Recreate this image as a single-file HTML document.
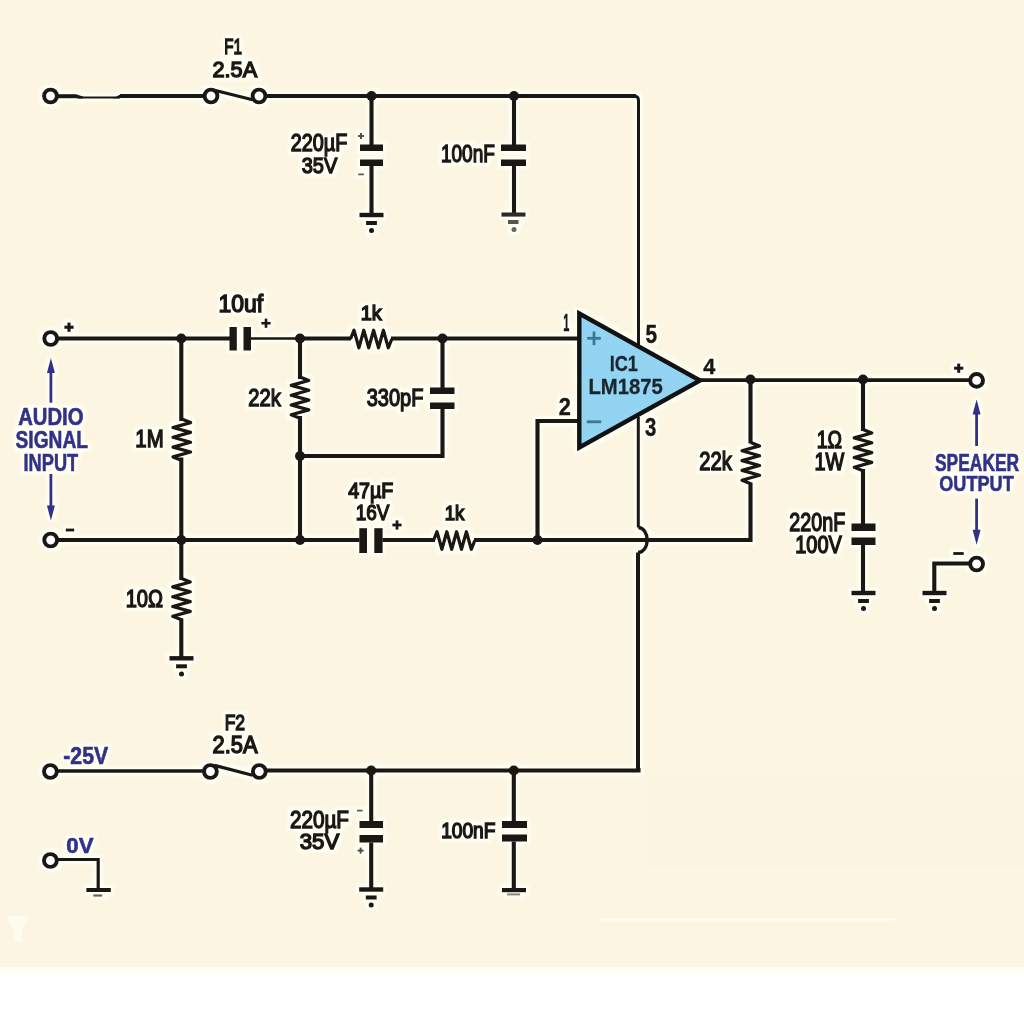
<!DOCTYPE html>
<html><head><meta charset="utf-8"><style>
html,body{margin:0;padding:0;background:#fff;}
body{width:1024px;height:1024px;overflow:hidden;position:relative;}
svg{position:absolute;left:0;top:0;}
text{font-family:"Liberation Sans",sans-serif;}
</style></head><body>
<svg width="1024" height="1024" viewBox="0 0 1024 1024">
<rect x="0" y="0" width="1024" height="967" fill="#FCF5E2"/>
<rect x="0" y="967" width="1024" height="57" fill="#ffffff"/>
<rect x="0" y="967" width="1024" height="8" fill="#fefdf8"/>
<rect x="650" y="772" width="374" height="30" fill="#f9f2df" opacity="0.2"/>
<rect x="648" y="802" width="376" height="64" fill="#f6efdb" opacity="0.4"/>
<path d="M600,919.5 H895" stroke="#fffdf5" stroke-width="2.2"/>
<path d="M6,916 L14,930 L14,942 L22,942 L22,930 L28,916 Z" fill="#fefcf4" opacity="0.8"/>
<defs><filter id="b" x="-5%" y="-5%" width="110%" height="110%" color-interpolation-filters="sRGB">
<feMorphology in="SourceAlpha" operator="dilate" radius="2.5" result="d"/>
<feGaussianBlur in="d" stdDeviation="1.6" result="db"/>
<feFlood flood-color="#fffff3" result="f"/>
<feComposite in="f" in2="db" operator="in" result="h"/>
<feGaussianBlur in="SourceGraphic" stdDeviation="0.65" result="s"/>
<feMerge><feMergeNode in="h"/><feMergeNode in="s"/></feMerge>
</filter></defs>
<g filter="url(#b)">
<circle cx="50.5" cy="96" r="6.4" fill="#fff" stroke="#1a1715" stroke-width="3.9"/>
<path d="M56,96.2 L76,96.2" fill="none" stroke="#1a1715" stroke-width="4.0" stroke-linecap="butt" stroke-linejoin="miter"/>
<path d="M76,94.2 L83,96.5 L83,98.4 L76,98.2 Z" fill="#1a1715"/>
<path d="M78,97.4 L120,97.4" fill="none" stroke="#1a1715" stroke-width="2.0" stroke-linecap="butt" stroke-linejoin="miter"/>
<path d="M113,98.4 L121,94 L121,98 Z" fill="#1a1715"/>
<path d="M120,96 L205,96" fill="none" stroke="#1a1715" stroke-width="4.0" stroke-linecap="butt" stroke-linejoin="miter"/>
<circle cx="211" cy="96" r="6.4" fill="#fff" stroke="#1a1715" stroke-width="3.9"/>
<circle cx="259" cy="96" r="6.4" fill="#fff" stroke="#1a1715" stroke-width="3.9"/>
<path d="M214.5,90.2 L252.5,99.8" fill="none" stroke="#1a1715" stroke-width="3.2" stroke-linecap="butt" stroke-linejoin="miter"/>
<path d="M265,96 L636,96" fill="none" stroke="#1a1715" stroke-width="4.1" stroke-linecap="butt" stroke-linejoin="miter"/>
<path d="M634,96 Q638.5,96 638.5,100.5 L638.5,345" fill="none" stroke="#1a1715" stroke-width="3.0"/>
<circle cx="371.5" cy="96" r="5.0" fill="#1a1715"/>
<circle cx="514" cy="96" r="5.0" fill="#1a1715"/>
<path d="M371.5,96 L371.5,145" fill="none" stroke="#1a1715" stroke-width="4.1" stroke-linecap="butt" stroke-linejoin="miter"/>
<rect x="360" y="144.5" width="23" height="6.5" fill="#1a1715"/>
<rect x="360" y="159.5" width="23" height="6.5" fill="#1a1715"/>
<path d="M371.5,166 L371.5,214" fill="none" stroke="#1a1715" stroke-width="4.1" stroke-linecap="butt" stroke-linejoin="miter"/>
<rect x="359.5" y="212.8" width="24.0" height="4.399999999999977" fill="#1a1715"/>
<rect x="366.1" y="221.0" width="10.799999999999955" height="4.0" fill="#1a1715"/>
<circle cx="371.5" cy="230.6" r="2.5" fill="#1a1715"/>
<path d="M358.0,136H364.0" stroke="#4f4a43" stroke-width="1.9"/>
<path d="M361,133.0V139.0" stroke="#4f4a43" stroke-width="1.9"/>
<path d="M358.2,174.4H363.8" stroke="#5f5a52" stroke-width="1.8"/>
<text x="290.725" y="151.0" font-size="23.7" font-weight="normal" fill="#1a1715" stroke="#1a1715" stroke-width="1.45" textLength="56.55" lengthAdjust="spacingAndGlyphs">220µF</text>
<text x="301.725" y="173.0" font-size="22.5" font-weight="normal" fill="#1a1715" stroke="#1a1715" stroke-width="1.45" textLength="35.55" lengthAdjust="spacingAndGlyphs">35V</text>
<path d="M514,96 L514,145" fill="none" stroke="#1a1715" stroke-width="4.1" stroke-linecap="butt" stroke-linejoin="miter"/>
<rect x="501" y="144.5" width="25" height="6.5" fill="#1a1715"/>
<rect x="501" y="159.5" width="25" height="6.5" fill="#1a1715"/>
<path d="M514,166 L514,214" fill="none" stroke="#1a1715" stroke-width="4.1" stroke-linecap="butt" stroke-linejoin="miter"/>
<rect x="501.5" y="212.5" width="24.0" height="4.099999999999994" fill="#2e2b27"/>
<rect x="508" y="220" width="10.5" height="4" fill="#5a554c"/>
<circle cx="514" cy="229.5" r="2.5" fill="#6b655c"/>
<text x="440.925" y="162.3" font-size="24.7" font-weight="normal" fill="#1a1715" stroke="#1a1715" stroke-width="1.45" textLength="53.95000000000003" lengthAdjust="spacingAndGlyphs">100nF</text>
<text x="224.225" y="54.4" font-size="22.1" font-weight="normal" fill="#1a1715" stroke="#1a1715" stroke-width="1.45" textLength="17.74999999999999" lengthAdjust="spacingAndGlyphs">F1</text>
<text x="212.525" y="76.8" font-size="22.7" font-weight="normal" fill="#1a1715" stroke="#1a1715" stroke-width="1.45" textLength="44.64999999999996" lengthAdjust="spacingAndGlyphs">2.5A</text>
<circle cx="50.7" cy="338.5" r="6.4" fill="#fff" stroke="#1a1715" stroke-width="3.9"/>
<path d="M64.4,327.2H73.6" stroke="#1a1715" stroke-width="3.1"/>
<path d="M69,322.59999999999997V331.8" stroke="#1a1715" stroke-width="3.1"/>
<path d="M56.5,338.5 L230,338.5" fill="none" stroke="#1a1715" stroke-width="4.1" stroke-linecap="butt" stroke-linejoin="miter"/>
<circle cx="181.3" cy="338.5" r="5.0" fill="#1a1715"/>
<rect x="229.5" y="327" width="7.300000000000011" height="23.5" fill="#1a1715"/>
<rect x="243.5" y="327" width="7.5" height="23.5" fill="#1a1715"/>
<path d="M261.4,323.2H270.6" stroke="#1a1715" stroke-width="2.6"/>
<path d="M266,318.59999999999997V327.8" stroke="#1a1715" stroke-width="2.6"/>
<text x="218.525" y="312.1" font-size="23.5" font-weight="normal" fill="#1a1715" stroke="#1a1715" stroke-width="1.45" textLength="44.64999999999996" lengthAdjust="spacingAndGlyphs">10uf</text>
<path d="M250.5,338.5 L300,338.5" fill="none" stroke="#1a1715" stroke-width="2.4" stroke-linecap="butt" stroke-linejoin="miter"/>
<path d="M300,338.5 L351,338.5" fill="none" stroke="#1a1715" stroke-width="4.1" stroke-linecap="butt" stroke-linejoin="miter"/>
<circle cx="300" cy="338.5" r="5.0" fill="#1a1715"/>
<path d="M350.5,339 L354.0,330.2 L358.9,347.8 L363.8,330.2 L368.7,347.8 L373.6,330.2 L378.5,347.8 L383.4,330.2 L388.3,347.8 L391.8,339" fill="none" stroke="#1a1715" stroke-width="3.2" stroke-linecap="butt" stroke-linejoin="round"/>
<path d="M391,338.5 L579,338.5" fill="none" stroke="#1a1715" stroke-width="4.1" stroke-linecap="butt" stroke-linejoin="miter"/>
<text x="360.725" y="319.8" font-size="20.5" font-weight="normal" fill="#1a1715" stroke="#1a1715" stroke-width="1.45" textLength="21.05" lengthAdjust="spacingAndGlyphs">1k</text>
<circle cx="442.5" cy="338.5" r="5.0" fill="#1a1715"/>
<path d="M442.5,338.5 L442.5,388" fill="none" stroke="#1a1715" stroke-width="4.1" stroke-linecap="butt" stroke-linejoin="miter"/>
<rect x="430" y="387.5" width="24.5" height="6.5" fill="#1a1715"/>
<rect x="430" y="402.5" width="24.5" height="6.5" fill="#1a1715"/>
<path d="M442.5,409 L442.5,456 L300,456" fill="none" stroke="#1a1715" stroke-width="4.1" stroke-linecap="butt" stroke-linejoin="miter"/>
<circle cx="300" cy="456" r="5.0" fill="#1a1715"/>
<text x="366.625" y="406.0" font-size="24.6" font-weight="normal" fill="#1a1715" stroke="#1a1715" stroke-width="1.45" textLength="56.75000000000004" lengthAdjust="spacingAndGlyphs">330pF</text>
<path d="M300,338.5 L300,379" fill="none" stroke="#1a1715" stroke-width="4.1" stroke-linecap="butt" stroke-linejoin="miter"/>
<path d="M300,377.0 L308.8,380.5 L291.2,385.4 L308.8,390.3 L291.2,395.2 L308.8,400.1 L291.2,405.0 L308.8,409.9 L291.2,414.8 L300,418.3" fill="none" stroke="#1a1715" stroke-width="3.2" stroke-linecap="butt" stroke-linejoin="round"/>
<path d="M300,416 L300,540" fill="none" stroke="#1a1715" stroke-width="4.1" stroke-linecap="butt" stroke-linejoin="miter"/>
<text x="248.225" y="405.8" font-size="24.1" font-weight="normal" fill="#1a1715" stroke="#1a1715" stroke-width="1.45" textLength="32.55" lengthAdjust="spacingAndGlyphs">22k</text>
<path d="M181.3,338.5 L181.3,421" fill="none" stroke="#1a1715" stroke-width="4.1" stroke-linecap="butt" stroke-linejoin="miter"/>
<path d="M181.8,419.1 L190.6,422.6 L173.0,427.5 L190.6,432.4 L173.0,437.3 L190.6,442.2 L173.0,447.1 L190.6,452.0 L173.0,456.9 L181.8,460.40000000000003" fill="none" stroke="#1a1715" stroke-width="3.2" stroke-linecap="butt" stroke-linejoin="round"/>
<path d="M181.3,457.5 L181.3,540" fill="none" stroke="#1a1715" stroke-width="4.1" stroke-linecap="butt" stroke-linejoin="miter"/>
<text x="135.325" y="447.0" font-size="24.7" font-weight="normal" fill="#1a1715" stroke="#1a1715" stroke-width="1.45" textLength="28.350000000000012" lengthAdjust="spacingAndGlyphs">1M</text>
<circle cx="50.7" cy="540" r="6.4" fill="#fff" stroke="#1a1715" stroke-width="3.9"/>
<path d="M65.8,530H74.2" stroke="#1a1715" stroke-width="2.8"/>
<path d="M56.5,540 L359.5,540" fill="none" stroke="#1a1715" stroke-width="4.1" stroke-linecap="butt" stroke-linejoin="miter"/>
<circle cx="181.3" cy="540" r="5.0" fill="#1a1715"/>
<circle cx="300" cy="540" r="5.0" fill="#1a1715"/>
<rect x="359.3" y="528.2" width="7.699999999999989" height="24.799999999999955" fill="#1a1715"/>
<rect x="374.3" y="528.2" width="8.300000000000011" height="24.799999999999955" fill="#1a1715"/>
<path d="M392.4,525H401.6" stroke="#1a1715" stroke-width="2.8"/>
<path d="M397,520.4V529.6" stroke="#1a1715" stroke-width="2.8"/>
<text x="348.225" y="498.3" font-size="21.2" font-weight="normal" fill="#1a1715" stroke="#1a1715" stroke-width="1.45" textLength="45.05" lengthAdjust="spacingAndGlyphs">47µF</text>
<text x="355.725" y="520.3" font-size="22.7" font-weight="normal" fill="#1a1715" stroke="#1a1715" stroke-width="1.45" textLength="33.55" lengthAdjust="spacingAndGlyphs">16V</text>
<path d="M382.5,540 L435,540" fill="none" stroke="#1a1715" stroke-width="4.1" stroke-linecap="butt" stroke-linejoin="miter"/>
<path d="M433.5,540.5 L437.0,531.7 L441.9,549.3 L446.8,531.7 L451.7,549.3 L456.6,531.7 L461.5,549.3 L466.4,531.7 L471.3,549.3 L474.8,540.5" fill="none" stroke="#1a1715" stroke-width="3.2" stroke-linecap="butt" stroke-linejoin="round"/>
<text x="444.725" y="519.8" font-size="20.5" font-weight="normal" fill="#1a1715" stroke="#1a1715" stroke-width="1.45" textLength="19.55" lengthAdjust="spacingAndGlyphs">1k</text>
<path d="M474,540 L750.5,540 L750.5,482.5" fill="none" stroke="#1a1715" stroke-width="4.1" stroke-linecap="butt" stroke-linejoin="miter"/>
<circle cx="537.5" cy="540" r="5.0" fill="#1a1715"/>
<path d="M579,421 L537.5,421 L537.5,540" fill="none" stroke="#1a1715" stroke-width="4.1" stroke-linecap="butt" stroke-linejoin="miter"/>
<path d="M638.3,417 L638.3,527.5" fill="none" stroke="#1a1715" stroke-width="3.0" stroke-linecap="butt" stroke-linejoin="miter"/>
<path d="M638.3,527.5 A9,12.5 0 0 1 638,552.5" fill="none" stroke="#1a1715" stroke-width="3.3"/>
<path d="M638,552.5 L638,770.5" fill="none" stroke="#1a1715" stroke-width="4.0" stroke-linecap="butt" stroke-linejoin="miter"/>
<path d="M579.3,313.5 L579.3,447.5 L700,380.5 Z" fill="#92d4f2" stroke="#111" stroke-width="4.4" stroke-linejoin="miter"/>
<path d="M587.2,338.3H600.8" stroke="#3f7796" stroke-width="2.8"/>
<path d="M594,331.5V345.1" stroke="#3f7796" stroke-width="2.8"/>
<path d="M586.8,421.8H601.2" stroke="#3f7796" stroke-width="2.8"/>
<text x="609.65" y="371.0" font-size="22.1" font-weight="bold" fill="#1b2530" stroke="#1b2530" stroke-width="0.3" textLength="28.2" lengthAdjust="spacingAndGlyphs">IC1</text>
<text x="588.4499999999999" y="393.7" font-size="22.1" font-weight="bold" fill="#1b2530" stroke="#1b2530" stroke-width="0.3" textLength="74.40000000000005" lengthAdjust="spacingAndGlyphs">LM1875</text>
<text x="563.2" y="331.4" font-size="23.0" font-weight="bold" fill="#1a1715" stroke="#1a1715" stroke-width="0.4" textLength="6.1" lengthAdjust="spacingAndGlyphs">1</text>
<text x="558.7" y="414.6" font-size="23.7" font-weight="bold" fill="#1a1715" stroke="#1a1715" stroke-width="0.4" textLength="12.1" lengthAdjust="spacingAndGlyphs">2</text>
<text x="645.0" y="435.7" font-size="25.6" font-weight="bold" fill="#1a1715" stroke="#1a1715" stroke-width="0.4" textLength="11.300000000000045" lengthAdjust="spacingAndGlyphs">3</text>
<text x="703.2" y="373.6" font-size="22.5" font-weight="bold" fill="#1a1715" stroke="#1a1715" stroke-width="0.4" textLength="11.999999999999977" lengthAdjust="spacingAndGlyphs">4</text>
<text x="645.6" y="342.6" font-size="26.0" font-weight="bold" fill="#1a1715" stroke="#1a1715" stroke-width="0.4" textLength="11.6" lengthAdjust="spacingAndGlyphs">5</text>
<path d="M700,380.1 L970.5,380.1" fill="none" stroke="#1a1715" stroke-width="3.6" stroke-linecap="butt" stroke-linejoin="miter"/>
<circle cx="750.5" cy="379.5" r="5.0" fill="#1a1715"/>
<circle cx="863" cy="379.5" r="5.0" fill="#1a1715"/>
<path d="M750.5,379.5 L750.5,443.5" fill="none" stroke="#1a1715" stroke-width="4.1" stroke-linecap="butt" stroke-linejoin="miter"/>
<path d="M750.8,442.4 L759.6,445.9 L742.0,450.8 L759.6,455.7 L742.0,460.6 L759.6,465.5 L742.0,470.4 L759.6,475.3 L742.0,480.2 L750.8,483.7" fill="none" stroke="#1a1715" stroke-width="3.2" stroke-linecap="butt" stroke-linejoin="round"/>
<text x="699.225" y="470.4" font-size="25.4" font-weight="normal" fill="#1a1715" stroke="#1a1715" stroke-width="1.45" textLength="32.55" lengthAdjust="spacingAndGlyphs">22k</text>
<path d="M863,379.5 L863,431" fill="none" stroke="#1a1715" stroke-width="4.1" stroke-linecap="butt" stroke-linejoin="miter"/>
<path d="M863,429.5 L871.8,433.0 L854.2,437.9 L871.8,442.8 L854.2,447.7 L871.8,452.6 L854.2,457.5 L871.8,462.4 L854.2,467.3 L863,470.8" fill="none" stroke="#1a1715" stroke-width="3.2" stroke-linecap="butt" stroke-linejoin="round"/>
<path d="M863,469 L863,524" fill="none" stroke="#1a1715" stroke-width="4.1" stroke-linecap="butt" stroke-linejoin="miter"/>
<rect x="851.5" y="523.5" width="24.0" height="7.5" fill="#1a1715"/>
<rect x="851.5" y="537.5" width="24.0" height="7.5" fill="#1a1715"/>
<path d="M863,545 L863,592" fill="none" stroke="#1a1715" stroke-width="4.1" stroke-linecap="butt" stroke-linejoin="miter"/>
<rect x="851.5" y="590.8" width="24.0" height="4.400000000000091" fill="#1a1715"/>
<rect x="858.1" y="599.0" width="10.799999999999955" height="4.0" fill="#1a1715"/>
<circle cx="863.5" cy="608.6" r="2.5" fill="#1a1715"/>
<text x="816.725" y="447.7" font-size="24.0" font-weight="normal" fill="#1a1715" stroke="#1a1715" stroke-width="1.45" textLength="25.349999999999955" lengthAdjust="spacingAndGlyphs">1Ω</text>
<text x="814.525" y="469.7" font-size="24.3" font-weight="normal" fill="#1a1715" stroke="#1a1715" stroke-width="1.45" textLength="29.750000000000046" lengthAdjust="spacingAndGlyphs">1W</text>
<text x="789.325" y="530.8" font-size="25.1" font-weight="normal" fill="#1a1715" stroke="#1a1715" stroke-width="1.45" textLength="55.949999999999974" lengthAdjust="spacingAndGlyphs">220nF</text>
<text x="795.225" y="552.6" font-size="23.4" font-weight="normal" fill="#1a1715" stroke="#1a1715" stroke-width="1.45" textLength="46.55" lengthAdjust="spacingAndGlyphs">100V</text>
<circle cx="976.6" cy="380.4" r="6.4" fill="#fff" stroke="#1a1715" stroke-width="3.9"/>
<path d="M954.1,368.2H963.3000000000001" stroke="#1a1715" stroke-width="3.0"/>
<path d="M958.7,363.59999999999997V372.8" stroke="#1a1715" stroke-width="3.0"/>
<path d="M976.6,446 L976.6,409.9" fill="none" stroke="#31318a" stroke-width="2.8" stroke-linecap="butt" stroke-linejoin="miter"/>
<path d="M976.6,399.4 L972.6,414.4 L980.6,414.4 Z" fill="#31318a"/>
<path d="M976.6,498.6 L976.6,534.2" fill="none" stroke="#31318a" stroke-width="2.8" stroke-linecap="butt" stroke-linejoin="miter"/>
<path d="M976.6,544.7 L972.6,529.7 L980.6,529.7 Z" fill="#31318a"/>
<text x="935.0" y="470.9" font-size="23.7" font-weight="bold" fill="#31318a" stroke="#31318a" stroke-width="0.6" textLength="84.19999999999996" lengthAdjust="spacingAndGlyphs">SPEAKER</text>
<text x="939.3" y="491.2" font-size="21.9" font-weight="bold" fill="#31318a" stroke="#31318a" stroke-width="0.6" textLength="74.4" lengthAdjust="spacingAndGlyphs">OUTPUT</text>
<circle cx="976.6" cy="564" r="6.4" fill="#fff" stroke="#1a1715" stroke-width="3.9"/>
<path d="M953.3,553.5H963.7" stroke="#1a1715" stroke-width="2.8"/>
<path d="M971,563.5 L934.3,563.5 L934.3,592" fill="none" stroke="#1a1715" stroke-width="4.1" stroke-linecap="butt" stroke-linejoin="miter"/>
<rect x="922.5" y="590.8" width="24.0" height="4.400000000000091" fill="#1a1715"/>
<rect x="929.1" y="599.0" width="10.799999999999955" height="4.0" fill="#1a1715"/>
<circle cx="934.5" cy="608.6" r="2.5" fill="#1a1715"/>
<path d="M50.9,402.7 L50.9,368.4" fill="none" stroke="#31318a" stroke-width="2.8" stroke-linecap="butt" stroke-linejoin="miter"/>
<path d="M50.9,357.9 L46.9,372.9 L54.9,372.9 Z" fill="#31318a"/>
<path d="M50.9,474 L50.9,510.0" fill="none" stroke="#31318a" stroke-width="2.8" stroke-linecap="butt" stroke-linejoin="miter"/>
<path d="M50.9,520.5 L46.9,505.5 L54.9,505.5 Z" fill="#31318a"/>
<text x="18.2" y="424.9" font-size="23.0" font-weight="bold" fill="#31318a" stroke="#31318a" stroke-width="0.6" textLength="65.30000000000001" lengthAdjust="spacingAndGlyphs">AUDIO</text>
<text x="15.600000000000001" y="447.6" font-size="24.3" font-weight="bold" fill="#31318a" stroke="#31318a" stroke-width="0.6" textLength="72.30000000000001" lengthAdjust="spacingAndGlyphs">SIGNAL</text>
<text x="23.5" y="470.6" font-size="24.3" font-weight="bold" fill="#31318a" stroke="#31318a" stroke-width="0.6" textLength="54.699999999999996" lengthAdjust="spacingAndGlyphs">INPUT</text>
<path d="M181.3,540 L181.3,580" fill="none" stroke="#1a1715" stroke-width="4.1" stroke-linecap="butt" stroke-linejoin="miter"/>
<path d="M181.5,578.5 L190.3,582.0 L172.7,586.9 L190.3,591.8 L172.7,596.7 L190.3,601.6 L172.7,606.5 L190.3,611.4 L172.7,616.3 L181.5,619.8" fill="none" stroke="#1a1715" stroke-width="3.2" stroke-linecap="butt" stroke-linejoin="round"/>
<path d="M181.3,618.4 L181.3,657" fill="none" stroke="#1a1715" stroke-width="4.1" stroke-linecap="butt" stroke-linejoin="miter"/>
<rect x="169.5" y="656.0999999999999" width="24.0" height="4.400000000000091" fill="#1a1715"/>
<rect x="176.1" y="664.3" width="10.800000000000011" height="4.0" fill="#1a1715"/>
<circle cx="181.5" cy="673.9" r="2.5" fill="#1a1715"/>
<text x="125.625" y="606.7" font-size="24.3" font-weight="normal" fill="#1a1715" stroke="#1a1715" stroke-width="1.45" textLength="37.34999999999998" lengthAdjust="spacingAndGlyphs">10Ω</text>
<circle cx="50.4" cy="771.5" r="6.4" fill="#fff" stroke="#1a1715" stroke-width="3.9"/>
<path d="M56,771 L204.5,771" fill="none" stroke="#1a1715" stroke-width="3.4" stroke-linecap="butt" stroke-linejoin="miter"/>
<circle cx="210.4" cy="771.5" r="6.4" fill="#fff" stroke="#1a1715" stroke-width="3.9"/>
<circle cx="259.3" cy="771.5" r="6.4" fill="#fff" stroke="#1a1715" stroke-width="3.9"/>
<path d="M214.5,765.4 L252.5,775.2" fill="none" stroke="#1a1715" stroke-width="3.2" stroke-linecap="butt" stroke-linejoin="miter"/>
<path d="M265,770.5 L638.5,770.5 L638.5,768" fill="none" stroke="#1a1715" stroke-width="4.1" stroke-linecap="butt" stroke-linejoin="miter"/>
<circle cx="371.2" cy="770.5" r="5.0" fill="#1a1715"/>
<circle cx="513.8" cy="770.5" r="5.0" fill="#1a1715"/>
<text x="224.625" y="730.0" font-size="21.8" font-weight="normal" fill="#1a1715" stroke="#1a1715" stroke-width="1.45" textLength="20.450000000000006" lengthAdjust="spacingAndGlyphs">F2</text>
<text x="212.525" y="752.6" font-size="23.4" font-weight="normal" fill="#1a1715" stroke="#1a1715" stroke-width="1.45" textLength="45.05" lengthAdjust="spacingAndGlyphs">2.5A</text>
<text x="63.3" y="763.9" font-size="23.1" font-weight="bold" fill="#31318a" stroke="#31318a" stroke-width="0.6" textLength="44.800000000000004" lengthAdjust="spacingAndGlyphs">-25V</text>
<path d="M371.2,770.5 L371.2,821" fill="none" stroke="#1a1715" stroke-width="4.1" stroke-linecap="butt" stroke-linejoin="miter"/>
<rect x="359.5" y="821" width="23.5" height="7" fill="#1a1715"/>
<rect x="359.5" y="835" width="23.5" height="7.5" fill="#1a1715"/>
<path d="M371.2,842.5 L371.2,888" fill="none" stroke="#1a1715" stroke-width="4.1" stroke-linecap="butt" stroke-linejoin="miter"/>
<rect x="359.2" y="887.3" width="24.0" height="4.400000000000091" fill="#1a1715"/>
<rect x="365.8" y="895.5" width="10.799999999999955" height="4.0" fill="#1a1715"/>
<circle cx="371.2" cy="905.1" r="2.5" fill="#1a1715"/>
<path d="M357.0,810.6H362.6" stroke="#5f5a52" stroke-width="1.8"/>
<path d="M357.6,850.6H363.6" stroke="#4f4a43" stroke-width="1.9"/>
<path d="M360.6,847.6V853.6" stroke="#4f4a43" stroke-width="1.9"/>
<text x="289.925" y="827.8" font-size="24.4" font-weight="normal" fill="#1a1715" stroke="#1a1715" stroke-width="1.45" textLength="59.05" lengthAdjust="spacingAndGlyphs">220µF</text>
<text x="299.725" y="849.2" font-size="21.4" font-weight="normal" fill="#1a1715" stroke="#1a1715" stroke-width="1.45" textLength="39.55" lengthAdjust="spacingAndGlyphs">35V</text>
<path d="M513.8,770.5 L513.8,821" fill="none" stroke="#1a1715" stroke-width="4.1" stroke-linecap="butt" stroke-linejoin="miter"/>
<rect x="502" y="821" width="25" height="7" fill="#1a1715"/>
<rect x="502" y="834.5" width="25" height="7.0" fill="#1a1715"/>
<path d="M513.8,841.5 L513.8,888" fill="none" stroke="#1a1715" stroke-width="4.1" stroke-linecap="butt" stroke-linejoin="miter"/>
<rect x="502" y="888" width="24" height="4.2000000000000455" fill="#1a1715"/>
<rect x="507" y="893.4" width="13" height="2.0" fill="#8a847a"/>
<text x="441.125" y="837.5" font-size="21.5" font-weight="normal" fill="#1a1715" stroke="#1a1715" stroke-width="1.45" textLength="54.35000000000001" lengthAdjust="spacingAndGlyphs">100nF</text>
<circle cx="50.4" cy="860.5" r="6.4" fill="#fff" stroke="#1a1715" stroke-width="3.9"/>
<path d="M56,859.5 L98.2,859.5 L98.2,888" fill="none" stroke="#1a1715" stroke-width="3.2" stroke-linecap="butt" stroke-linejoin="miter"/>
<rect x="86.4" y="888" width="24.39999999999999" height="4" fill="#1a1715"/>
<rect x="93.3" y="894.4" width="8.900000000000006" height="2.2000000000000455" fill="#6b655c"/>
<text x="66.3" y="853.2" font-size="21.9" font-weight="bold" fill="#31318a" stroke="#31318a" stroke-width="0.6" textLength="27.199999999999996" lengthAdjust="spacingAndGlyphs">0V</text>
</g>
</svg>
</body></html>
